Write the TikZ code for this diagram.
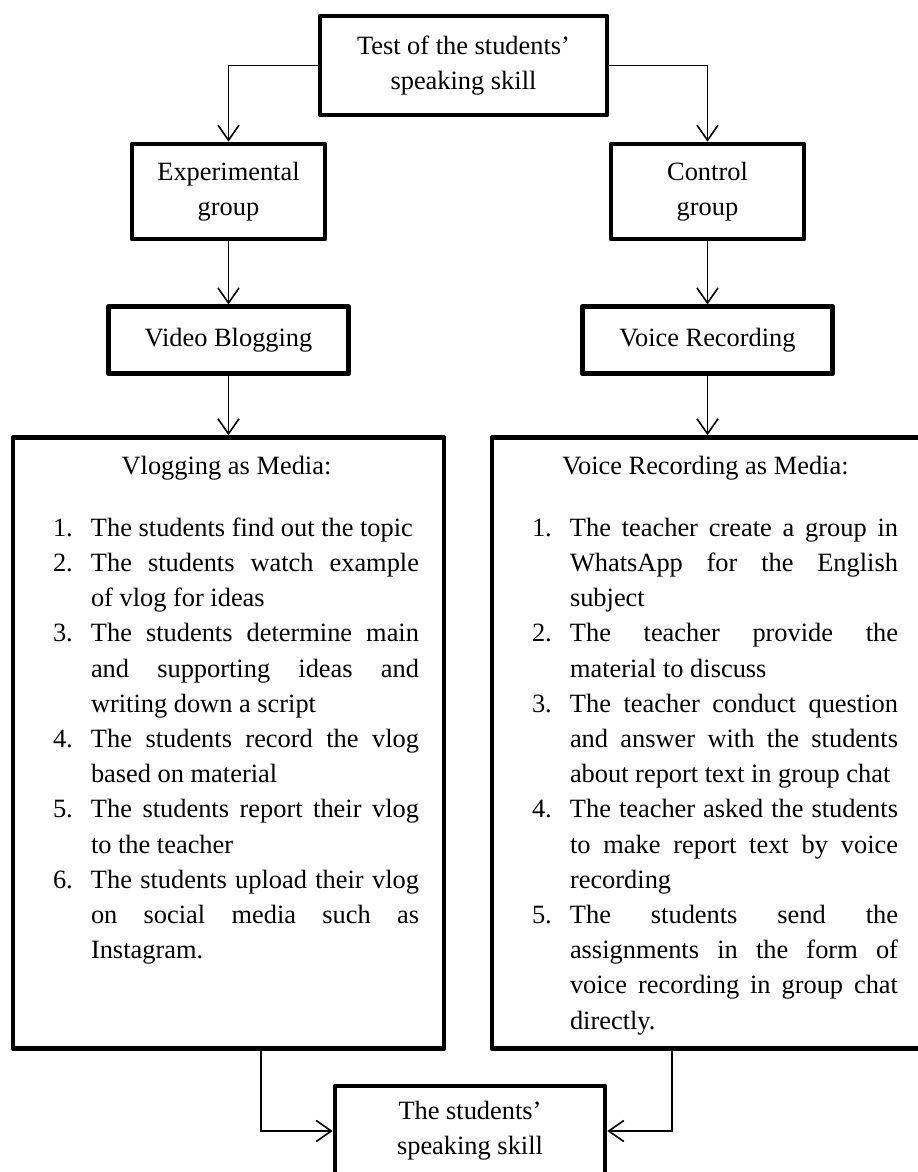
\documentclass[tikz,border=0pt]{standalone}
\usepackage{fontspec}
\setmainfont{Liberation Serif}
\usetikzlibrary{arrows.meta, positioning}

\setlength{\parskip}{0pt}
\tolerance=10000
\hbadness=10000
\newcommand{\mediaitem}[2]{\noindent\hangindent=28.5pt\hangafter=1\hbox to 28.5pt{\hskip 9.5pt #1.\hfil}#2\par}

\begin{document}
\begin{tikzpicture}[x=0.5pt, y=-0.5pt, >={Straight Barb[length=7.5pt,width=10.5pt]},
    font=\fontsize{13.2pt}{17.6pt}\selectfont]
  \tikzset{
    box/.style={draw=black, line width=2.4pt, line join=round, inner sep=0pt, align=center},
    bigbox/.style={box, minimum width=215.5pt, minimum height=305.5pt},
    listtext/.style={text width=192.5pt, inner sep=0pt, align=justify, anchor=base west},
    link/.style={->, line width=0.8pt}
  }
  \useasboundingbox (0,0) rectangle (917,1172);

  \node[box, minimum width=143.5pt, minimum height=49.5pt] (test) at (463.5,65.5) {Test of the students’\\speaking skill};

  \node[box, minimum width=96.5pt, minimum height=47.5pt] (expgrp) at (228.5,191.5) {Experimental\\group};
  \node[box, minimum width=96.5pt, minimum height=47.5pt] (ctrlgrp) at (707.5,191.5) {Control\\group};

  \node[box, minimum width=120pt, minimum height=33.5pt] (vblog) [below=31.5pt of expgrp] {Video Blogging};
  \node[box, minimum width=125pt, minimum height=33.5pt] (vrec) [below=31.5pt of ctrlgrp] {Voice Recording};

  \node[bigbox] (vlogbox) [below=29.5pt of vblog] {};
  \node[bigbox] (vrecbox) [below=29.5pt of vrec] {};

  \node[listtext] (vlogtext) at ([xshift=11.5pt,yshift=-19.5pt]vlogbox.north west) {%
    \centerline{Vlogging as Media:}\vskip 13.4pt
    \mediaitem{1}{The students find out the topic}
    \mediaitem{2}{The students watch example\linebreak of vlog for ideas}
    \mediaitem{3}{The students determine main\linebreak and supporting ideas and\linebreak writing down a script}
    \mediaitem{4}{The students record the vlog\linebreak based on material}
    \mediaitem{5}{The students report their vlog\linebreak to the teacher}
    \mediaitem{6}{The students upload their vlog\linebreak on social media such as\linebreak Instagram.}};

  \node[listtext] (vrectext) at ([xshift=11.5pt,yshift=-19.5pt]vrecbox.north west) {%
    \centerline{Voice Recording as Media:}\vskip 13.4pt
    \mediaitem{1}{The teacher create a group in\linebreak WhatsApp for the English\linebreak subject}
    \mediaitem{2}{The teacher provide the\linebreak material to discuss}
    \mediaitem{3}{The teacher conduct question\linebreak and answer with the students\linebreak about report text in group chat}
    \mediaitem{4}{The teacher asked the students\linebreak to make report text by voice\linebreak recording}
    \mediaitem{5}{The students send the\linebreak assignments in the form of\linebreak voice recording in group chat\linebreak directly.}};

  \node[box, minimum width=135pt, minimum height=45pt] (result) at (470,1131) {The students’\\speaking skill};

  \draw[link] (test.west) -| (expgrp.north);
  \draw[link] (test.east) -| (ctrlgrp.north);
  \draw[link] (expgrp.south) -- (vblog.north);
  \draw[link] (ctrlgrp.south) -- (vrec.north);
  \draw[link] (vblog.south) -- (vlogbox.north);
  \draw[link] (vrec.south) -- (vrecbox.north);
  \draw[link] ([xshift=16.25pt]vlogbox.south) |- (result.west);
  \draw[link] ([xshift=-17.75pt]vrecbox.south) |- (result.east);

\end{tikzpicture}
\end{document}
